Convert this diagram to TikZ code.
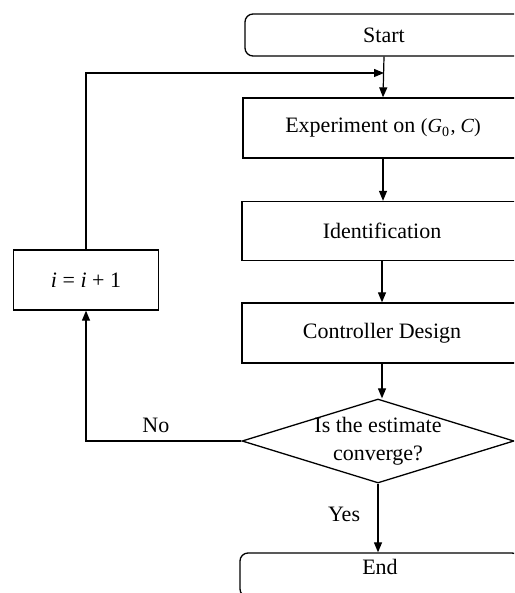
\documentclass[tikz,border=0pt]{standalone}
\usepackage{fontspec}
\setmainfont{Liberation Serif}
\usetikzlibrary{shapes.geometric,arrows.meta}
\begin{document}
\begin{tikzpicture}[x=1pt,y=-1pt,
  font=\fontsize{22}{28}\selectfont,
  box/.style={draw,line width=1.3pt,inner sep=0pt,minimum width=278pt},
  rbox/.style={box,rounded corners=8pt},
  decision/.style={draw,line width=1.3pt,diamond,shape aspect=3.2,inner xsep=-12pt,inner ysep=-12pt,minimum width=272pt,minimum height=84pt,align=center},
  arr/.style={line width=1.2pt,-{Triangle[length=10pt,width=8pt]}},
  ln/.style={line width=1.2pt}]
\useasboundingbox (0,0) rectangle (514,593);
\clip (0,0) rectangle (514,593);
\node[rbox,minimum height=42pt] (start) at (384,35) {Start};
\node[box,minimum height=60pt,minimum width=280pt] (exp) at (383,128) {Experiment on {\fontsize{20}{24}\selectfont(\textit{G}\textsubscript{0}\kern1pt, \textit{C})}};
\node[box,minimum height=59pt,minimum width=280pt] (ident) at (382,231) {Identification};
\node[box,minimum height=60pt,minimum width=280pt] (ctrl) at (382,333) {Controller Design};
\node[decision] (dec) at (378,441) {Is the estimate\\converge?};
\node[rbox,minimum height=44pt,minimum width=280pt,text height=14pt,text depth=16pt] (end) at (380,575) {End};
\node[box,minimum width=145pt,minimum height=60pt] (inc) at (86,280) {\textit{i} = \textit{i} + 1};
\coordinate (j) at (start.south |- 0,73);
\draw[arr] (start.south) -- (exp.north);
\draw[arr] (inc.north) |- (j);
\draw[arr] (exp.south) -- (exp.south |- ident.north);
\draw[arr] (ident.south) -- (ident.south |- ctrl.north);
\draw[arr] (ctrl.south) -- (ctrl.south |- dec.north);
\draw[arr] (dec.south) -- node[left=14pt,pos=0.45] (yes) {Yes} (dec.south |- end.north);
\draw[arr] (dec.west) -- node[above=4pt,pos=0.55] (no) {No} (inc.south |- dec.west) -- (inc.south);
\end{tikzpicture}
\end{document}
